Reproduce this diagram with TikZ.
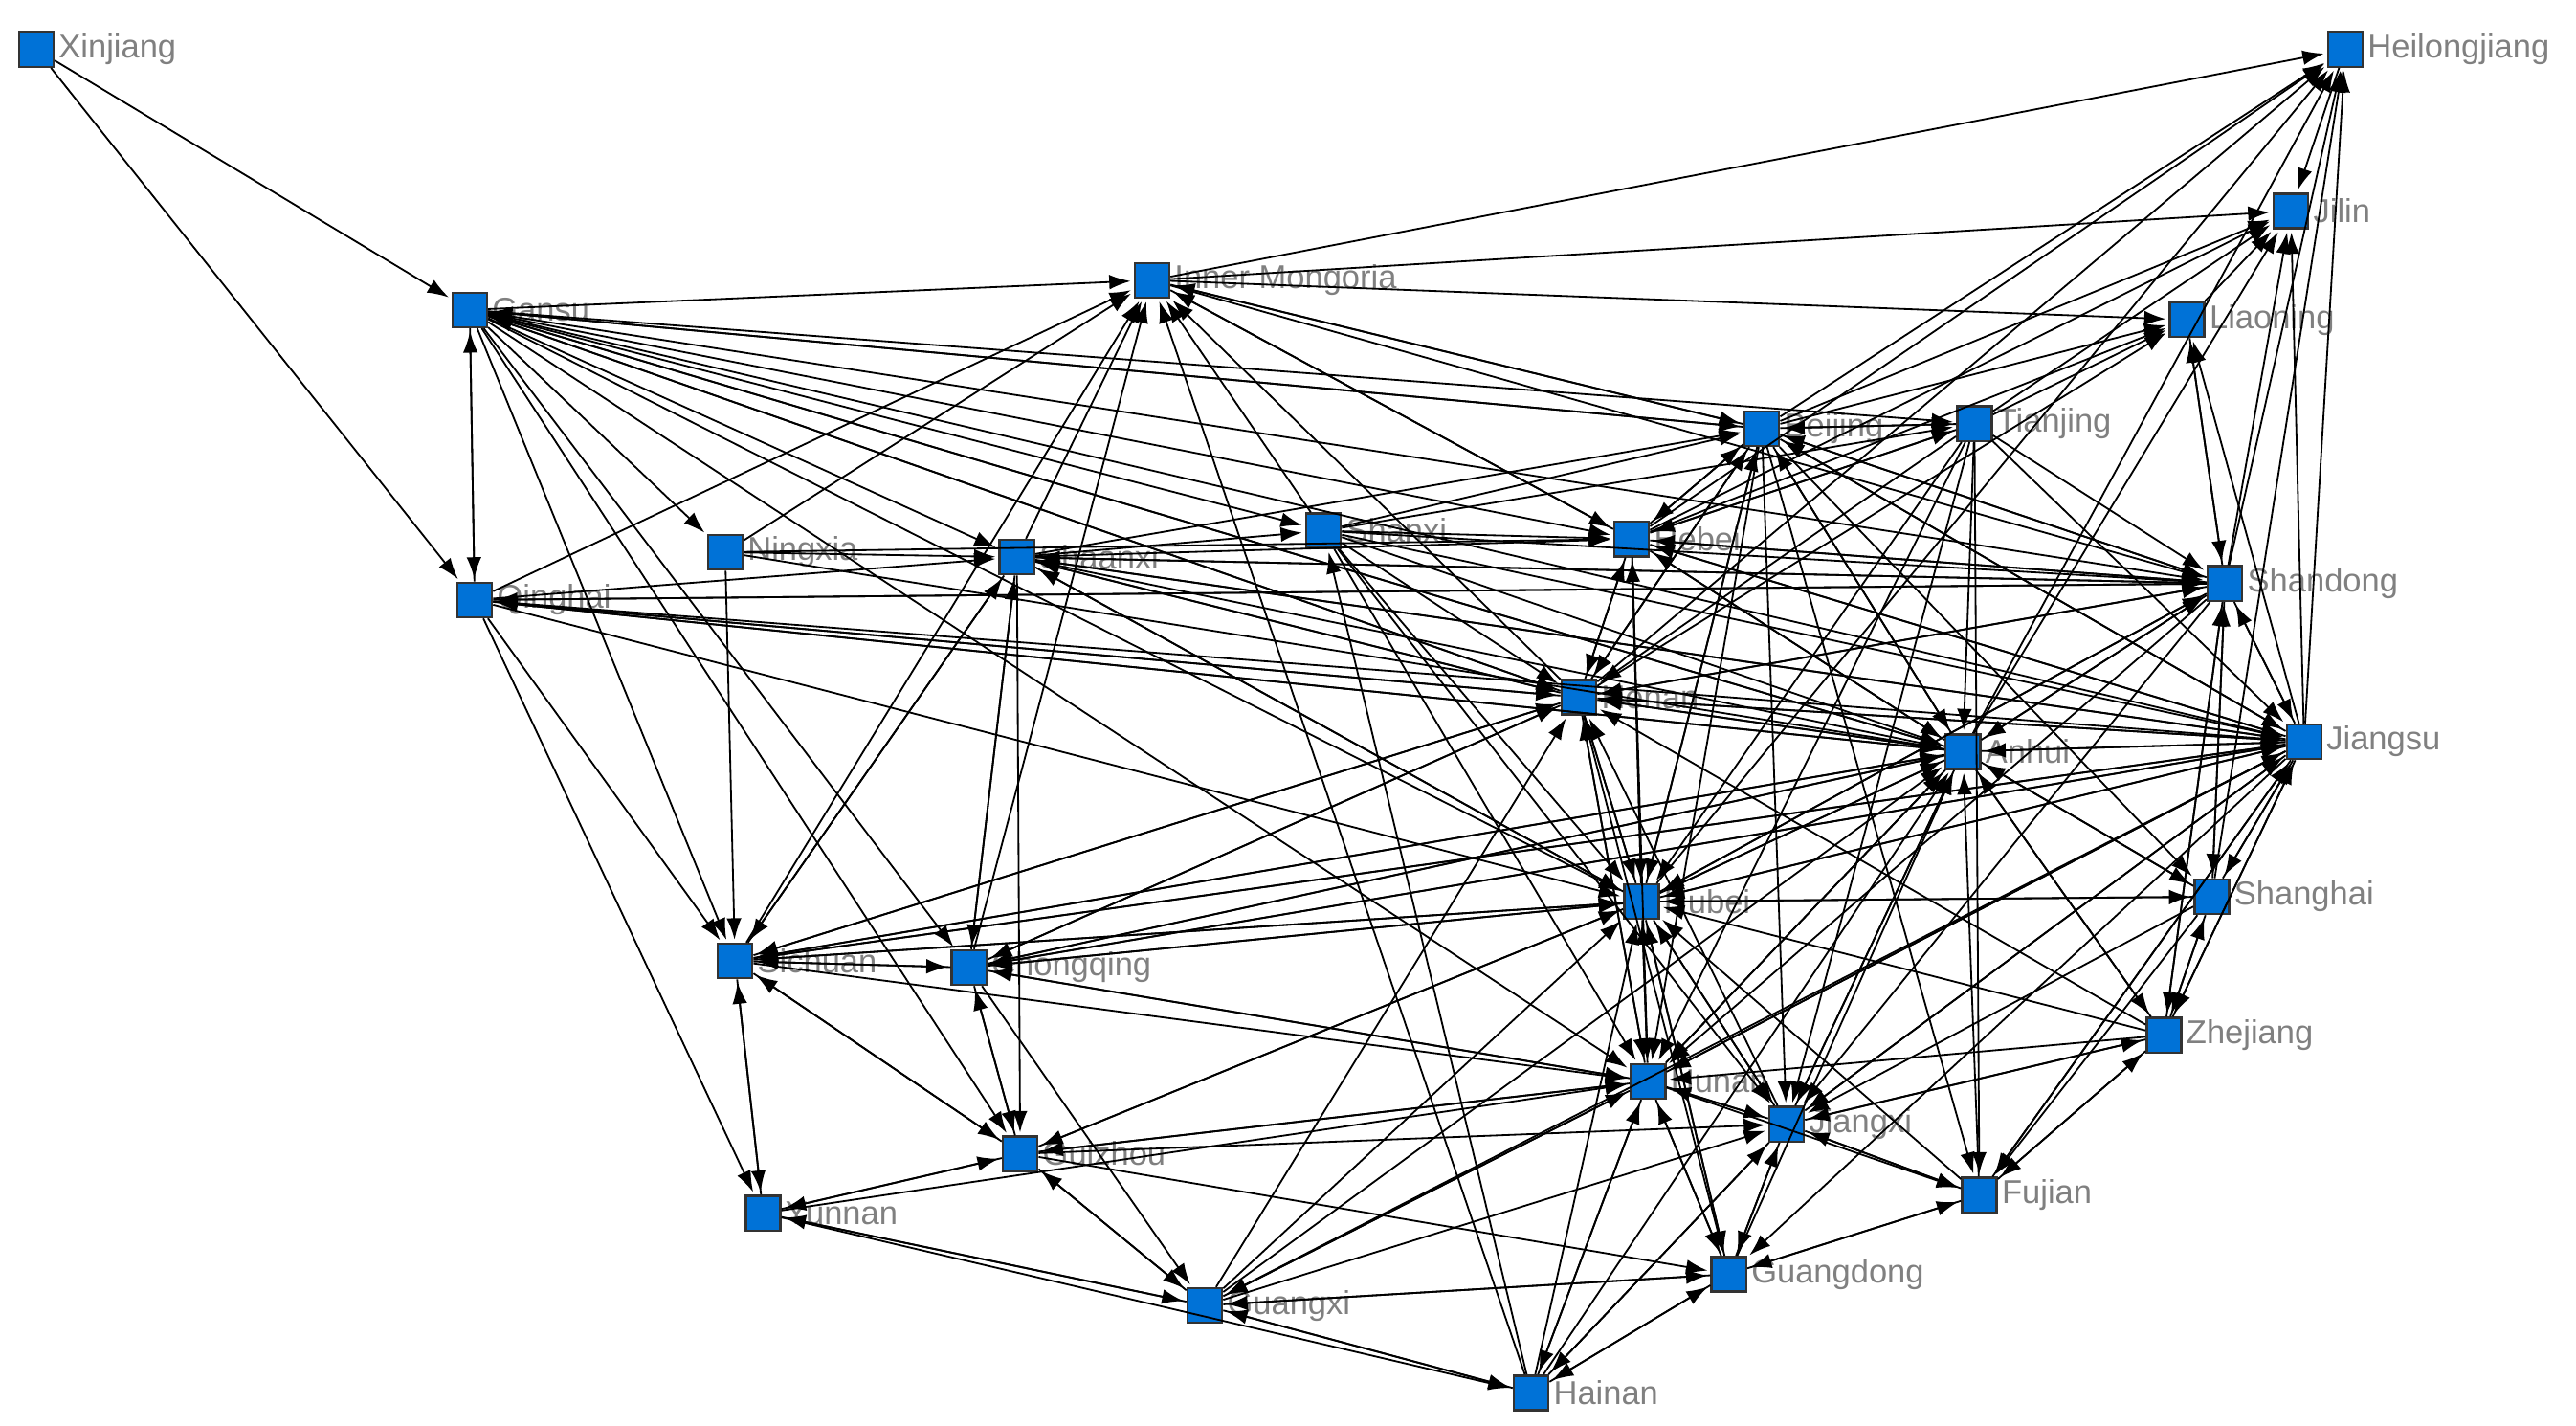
\documentclass[tikz,border=0pt]{standalone}
\usepackage{fontspec}
\setmainfont{Liberation Sans}
\usepackage{tikz}
\usetikzlibrary{arrows.meta}
\definecolor{nodeblue}{RGB}{0,114,215}
\definecolor{labelgray}{RGB}{128,128,128}
\tikzset{
  prov/.style={rectangle, draw=black!80, fill=nodeblue, minimum size=2.1mm, inner sep=0pt,
    label={[font=\fontsize{5.7}{7}\selectfont, text=labelgray, inner sep=0.5pt]east:#1}},
  link/.style={-{Latex[length=1.3mm,width=0.9mm]}, line width=0.3pt, draw=black, shorten >=0.5pt}
}
\begin{document}
\begin{tikzpicture}[x=0.1mm,y=-0.1mm]
  \useasboundingbox (0,0) rectangle (1563,865);
  % provinces
  \node[prov=Xinjiang] (Xinjiang) at (22,30) {};
  \node[prov=Heilongjiang] (Heilongjiang) at (1423,30) {};
  \node[prov=Jilin] (Jilin) at (1390,128) {};
  \node[prov=Gansu] (Gansu) at (285,188) {};
  \node[prov=Inner Mongoria] (Inner) at (699,170) {};
  \node[prov=Liaoning] (Liaoning) at (1327,194) {};
  \node[prov=Beijing] (Beijing) at (1069,260) {};
  \node[prov=Tianjing] (Tianjing) at (1198,257) {};
  \node[prov=Ningxia] (Ningxia) at (440,335) {};
  \node[prov=Shaanxi] (Shaanxi) at (617,338) {};
  \node[prov=Shanxi] (Shanxi) at (803,322) {};
  \node[prov=Hebei] (Hebei) at (990,327) {};
  \node[prov=Qinghai] (Qinghai) at (288,364) {};
  \node[prov=Shandong] (Shandong) at (1350,354) {};
  \node[prov=Henan] (Henan) at (958,423) {};
  \node[prov=Anhui] (Anhui) at (1191,456) {};
  \node[prov=Jiangsu] (Jiangsu) at (1398,450) {};
  \node[prov=Hubei] (Hubei) at (996,547) {};
  \node[prov=Shanghai] (Shanghai) at (1342,544) {};
  \node[prov=Sichuan] (Sichuan) at (446,583) {};
  \node[prov=Chongqing] (Chongqing) at (588,587) {};
  \node[prov=Zhejiang] (Zhejiang) at (1313,628) {};
  \node[prov=Hunan] (Hunan) at (1000,656) {};
  \node[prov=Jiangxi] (Jiangxi) at (1084,682) {};
  \node[prov=Guizhou] (Guizhou) at (619,700) {};
  \node[prov=Yunnan] (Yunnan) at (463,736) {};
  \node[prov=Fujian] (Fujian) at (1201,725) {};
  \node[prov=Guangdong] (Guangdong) at (1049,773) {};
  \node[prov=Guangxi] (Guangxi) at (731,792) {};
  \node[prov=Hainan] (Hainan) at (929,845) {};

  % flows: source / list of targets
  \foreach \s/\ts in {
    Xinjiang/{Gansu,Qinghai},
    Gansu/{Inner,Beijing,Tianjing,Shaanxi,Hebei,Shandong,Henan,Anhui,Jiangsu,Hubei,Sichuan,Chongqing,Qinghai,Ningxia,Guizhou,Hunan,Shanxi},
    Qinghai/{Gansu,Shaanxi,Henan,Anhui,Jiangsu,Sichuan,Yunnan,Shandong,Hubei,Inner},
    Ningxia/{Shaanxi,Hebei,Sichuan,Anhui,Inner},
    Inner/{Heilongjiang,Jilin,Beijing,Shandong,Hebei,Liaoning},
    Heilongjiang/{Jilin},
    Liaoning/{Jilin,Shandong},
    Shaanxi/{Inner,Shanxi,Hebei,Beijing,Shandong,Henan,Anhui,Jiangsu,Hubei,Sichuan,Chongqing,Guizhou},
    Shanxi/{Beijing,Hebei,Tianjing,Inner,Shandong,Henan,Anhui,Hubei,Hunan,Jiangsu,Jiangxi},
    Hebei/{Beijing,Tianjing,Shandong,Henan,Jiangsu,Anhui,Hubei,Hunan,Inner,Heilongjiang,Jilin,Liaoning},
    Beijing/{Tianjing,Hebei,Shandong,Anhui,Jiangsu,Hubei,Henan,Shanghai,Hunan,Jiangxi,Fujian,Inner,Gansu,Heilongjiang,Jilin,Liaoning},
    Tianjing/{Beijing,Shandong,Hebei,Anhui,Jiangsu,Henan,Hubei,Fujian,Hunan,Jiangxi,Jilin,Liaoning},
    Shandong/{Jiangsu,Anhui,Henan,Hebei,Beijing,Hubei,Shanghai,Zhejiang,Liaoning,Jilin,Shaanxi,Qinghai,Hunan,Jiangxi,Heilongjiang},
    Jiangsu/{Anhui,Shandong,Shanghai,Zhejiang,Henan,Hubei,Hunan,Jiangxi,Fujian,Beijing,Hebei,Shaanxi,Sichuan,Chongqing,Guangdong,Guangxi,Heilongjiang,Jilin,Liaoning},
    Anhui/{Jiangsu,Henan,Hubei,Shandong,Hunan,Jiangxi,Zhejiang,Shanghai,Hebei,Beijing,Sichuan,Chongqing,Qinghai,Gansu,Heilongjiang,Jilin},
    Henan/{Hubei,Anhui,Hebei,Shandong,Beijing,Shaanxi,Hunan,Jiangsu,Inner,Sichuan,Chongqing,Qinghai,Gansu,Guangdong,Heilongjiang,Liaoning},
    Hubei/{Hunan,Henan,Anhui,Jiangxi,Chongqing,Sichuan,Jiangsu,Shanghai,Guangdong,Guizhou,Shaanxi,Beijing,Hebei,Shandong,Heilongjiang},
    Shanghai/{Jiangsu,Zhejiang,Anhui,Hubei,Shandong,Fujian,Jiangxi,Heilongjiang},
    Zhejiang/{Jiangsu,Shanghai,Anhui,Fujian,Jiangxi,Hunan,Hubei,Henan,Shandong},
    Hunan/{Hubei,Jiangxi,Guangdong,Guangxi,Chongqing,Guizhou,Anhui,Henan,Hainan,Jiangsu,Fujian},
    Jiangxi/{Hunan,Fujian,Guangdong,Anhui,Hubei,Zhejiang,Jiangsu,Henan,Hainan},
    Fujian/{Jiangxi,Guangdong,Zhejiang,Anhui,Hubei,Jiangsu},
    Guangdong/{Hunan,Jiangxi,Guangxi,Hubei,Fujian,Anhui,Hainan},
    Guangxi/{Guangdong,Hainan,Hunan,Guizhou,Yunnan,Anhui,Hubei,Henan,Jiangxi},
    Hainan/{Guangdong,Guangxi,Hunan,Hubei,Jiangxi,Anhui,Shanxi,Inner},
    Sichuan/{Chongqing,Guizhou,Yunnan,Shaanxi,Hubei,Hunan,Henan,Anhui,Jiangsu,Inner},
    Chongqing/{Sichuan,Guizhou,Hubei,Hunan,Shaanxi,Anhui,Henan,Guangxi,Inner,Jiangsu},
    Guizhou/{Chongqing,Sichuan,Guangxi,Hunan,Guangdong,Yunnan,Hubei,Jiangxi},
    Yunnan/{Sichuan,Guizhou,Guangxi,Hainan,Hunan}}
    \foreach \t in \ts
      \draw[link] (\s) -- (\t);
\end{tikzpicture}
\end{document}
